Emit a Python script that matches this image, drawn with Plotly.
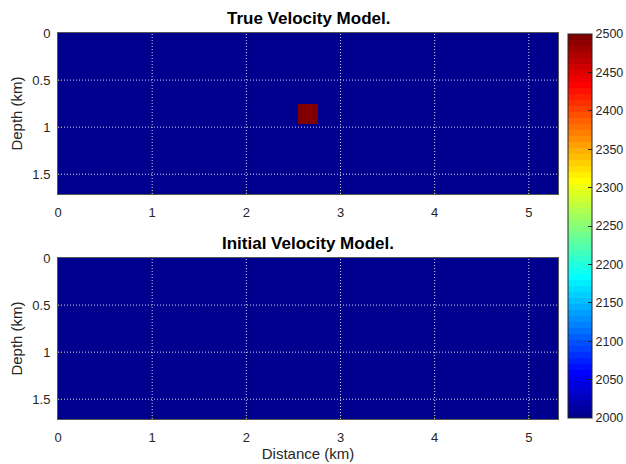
import plotly.graph_objects as go

# ---- data ----
x_edges_true = [0, 2.55, 2.76, 5.31]      # km
z_edges_true = [0, 0.75, 0.97, 1.71]      # km
vel_true = [[2000, 2000, 2000],
            [2000, 2500, 2000],
            [2000, 2000, 2000]]
x_edges_init = [0, 5.31]
z_edges_init = [0, 1.71]
vel_init = [[2000]]
x_ticks = [0, 1, 2, 3, 4, 5]
z_ticks = [0, 0.5, 1, 1.5]
cbar_ticks = [2000, 2050, 2100, 2150, 2200, 2250, 2300, 2350, 2400, 2450, 2500]
titles = ["True Velocity Model.", "Initial Velocity Model."]

W, H = 626, 464
L, R, T, B = 58, W - 558, 33, H - 419   # plot-area margins (px)
PW, PH = W - L - R, H - T - B

def fx(px):  # pixel x -> plot-area fraction
    return (px - L) / PW

def fy(py):  # pixel y (from top) -> plot-area fraction
    return (H - B - py) / PH

# MATLAB-style jet(64), as a stepped colorscale
def jet_colors(m=64):
    n = -(-m // 4)
    u = [i / n for i in range(1, n + 1)] + [1.0] * (n - 1) + [i / n for i in range(n, 0, -1)]
    g0 = -(-n // 2) - (1 if m % 4 == 1 else 0)
    rgb = [[0.0, 0.0, 0.0] for _ in range(m)]
    for k, val in enumerate(u):
        g = g0 + k + 1
        for idx, ch in ((g + n, 0), (g, 1), (g - n, 2)):
            if 1 <= idx <= m:
                rgb[idx - 1][ch] = val
    return ["rgb(%d,%d,%d)" % tuple(round(255 * c) for c in col) for col in rgb]

cols = jet_colors(64)
jet = []
for i, c in enumerate(cols):
    jet.append([i / 64, c])
    jet.append([(i + 1) / 64, c])

TXT = "#262626"
FAM = "Liberation Sans"

fig = go.Figure()
fig.add_trace(go.Heatmap(x=x_edges_true, y=z_edges_true, z=vel_true, zmin=2000, zmax=2500,
                         colorscale=jet, xaxis="x", yaxis="y",
                         colorbar=dict(thickness=24, thicknessmode="pixels", len=384, lenmode="pixels",
                                       x=fx(568), xanchor="left", xpad=0, ypad=0,
                                       y=fy(226), yanchor="middle",
                                       tickvals=cbar_ticks, ticks="inside", ticklen=4, tickcolor=TXT,
                                       tickfont=dict(size=12.5, color=TXT, family=FAM),
                                       outlinecolor=TXT, outlinewidth=1)))
fig.add_trace(go.Heatmap(x=x_edges_init, y=z_edges_init, z=vel_init, zmin=2000, zmax=2500,
                         colorscale=jet, showscale=False, xaxis="x2", yaxis="y2"))

font = dict(family=FAM, size=13, color=TXT)
xd = [0, 1]
yd_top = [fy(194), fy(33)]
yd_bot = [fy(419), fy(258)]
xmax = x_edges_true[-1]
zmax = z_edges_true[-1]

common_x = dict(range=[0, xmax], tickvals=x_ticks, ticks="inside", ticklen=4, tickcolor=TXT,
                showline=True, mirror=True, linecolor="#555", showgrid=False, zeroline=False,
                tickfont=font, ticklabelstandoff=6)
common_y = dict(range=[zmax, 0], tickvals=z_ticks, ticks="inside", ticklen=4, tickcolor=TXT,
                showline=True, mirror=True, linecolor="#555", showgrid=False, zeroline=False,
                tickfont=font, ticklabelstandoff=4,
                title=dict(text="Depth (km)", font=dict(family=FAM, size=15, color=TXT), standoff=6))

fig.update_layout(
    width=W, height=H, margin=dict(l=L, r=R, t=T, b=B, autoexpand=False),
    paper_bgcolor="white", plot_bgcolor="white",
    xaxis=dict(domain=xd, anchor="y", **common_x),
    yaxis=dict(domain=yd_top, anchor="x", **common_y),
    xaxis2=dict(domain=xd, anchor="y2",
                title=dict(text="Distance (km)", font=dict(family=FAM, size=15, color=TXT), standoff=1),
                **common_x),
    yaxis2=dict(domain=yd_bot, anchor="x2", **common_y),
    showlegend=False,
)

# dotted grid lines drawn above the images
grid = dict(color="rgba(235,235,235,0.9)", width=1, dash="1px,2px")
shapes = []
for xa, ya in [("x", "y"), ("x2", "y2")]:
    for t in x_ticks[1:]:
        shapes.append(dict(type="line", xref=xa, yref=ya + " domain", x0=t, x1=t, y0=0, y1=1,
                           line=grid, layer="above"))
    for t in z_ticks[1:]:
        shapes.append(dict(type="line", xref=xa + " domain", yref=ya, x0=0, x1=1, y0=t, y1=t,
                           line=grid, layer="above"))
fig.update_layout(shapes=shapes)

for text, yd in zip(titles, [yd_top, yd_bot]):
    fig.add_annotation(text="<b>%s</b>" % text, xref="paper", yref="paper", x=0.5, y=yd[1],
                       yanchor="bottom", showarrow=False, yshift=3,
                       font=dict(family=FAM, size=17, color="black"))

# remove the default 8px page margin so the figure sits at the window corner
fig.write_html("out.html", config={"displayModeBar": False},
               post_script="document.body.style.margin='0';document.body.style.overflow='hidden';")
